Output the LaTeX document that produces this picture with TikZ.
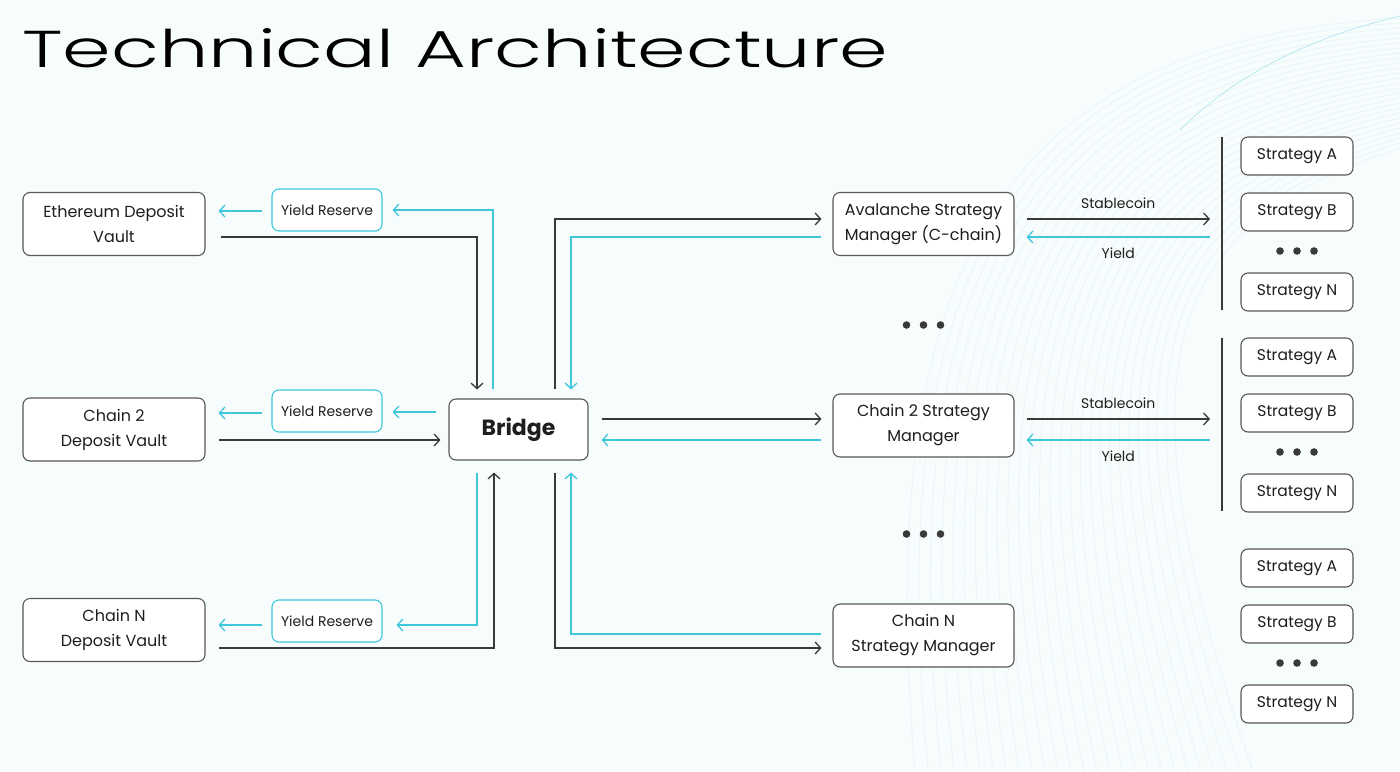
\documentclass[tikz,border=0pt]{standalone}
\usepackage{fontspec}
\setmainfont{Poppins}
\newfontfamily\titlefont{Poppins Light}
\usetikzlibrary{arrows.meta,calc}
\definecolor{bg}{HTML}{F7FCFD}
\definecolor{dk}{HTML}{3A3A3A}
\definecolor{cy}{HTML}{3DC7DA}
\definecolor{txt}{HTML}{1E1E1E}
\definecolor{deco}{HTML}{E8F2F5}
\tikzset{
  box/.style={draw=dk!85, line width=1.1pt, rounded corners=7pt, fill=white, align=center, inner sep=0pt, text=txt, font=\fontsize{16}{25}\selectfont},
  vault/.style={box, minimum width=182pt, minimum height=63pt},
  mgr/.style={box, minimum width=181pt, minimum height=63pt},
  strat/.style={box, minimum width=112pt, minimum height=38pt, font=\fontsize{15.5}{18}\selectfont},
  reserve/.style={box, draw=cy, minimum width=110pt, minimum height=42pt, font=\fontsize{14}{16}\selectfont},
  bridgebox/.style={box, minimum width=139pt, minimum height=61pt, font=\fontsize{22}{26}\bfseries\selectfont},
  dkline/.style={draw=dk, line width=1.3pt, -{Straight Barb[length=5.5pt,width=12pt]}},
  cyline/.style={draw=cy, line width=1.3pt, -{Straight Barb[length=5.5pt,width=12pt]}},
  lbl/.style={font=\fontsize{14}{16}\selectfont, text=txt, inner sep=0pt},
  dot/.style={fill=dk, draw=none}
}
\begin{document}
\begin{tikzpicture}[x=1pt,y=-1pt]
\path[use as bounding box, fill=bg] (0,0) rectangle (1400,771);
% decorative background curves
\begin{scope}
\clip (0,0) rectangle (1400,771);
\foreach \i in {0,...,26}{
  \draw[deco, line width=0.6pt] (1400,{18+\i*5}) .. controls ({1020+\i*6},{40+\i*7}) and ({870+\i*9},{240+\i*4}) .. ({915+\i*13},771);
}
\draw[cy!40, line width=0.7pt] (1400,16) .. controls (1300,40) and (1230,80) .. (1180,130);
\end{scope}
% title
\node[anchor=south west, inner sep=0pt] (title) at (22,68) {\resizebox{866pt}{39pt}{\titlefont Technical Architecture}};
% left vaults
\node[vault] (eth) at (114,224) {Ethereum Deposit\\Vault};
\node[vault] (c2v) at (114,429.5) {Chain 2\\Deposit Vault};
\node[vault] (cnv) at (114,630) {Chain N\\Deposit Vault};
% yield reserves
\node[reserve] (yr1) at (327,210) {Yield Reserve};
\node[reserve] (yr2) at (327,411) {Yield Reserve};
\node[reserve] (yr3) at (327,621) {Yield Reserve};
% bridge
\node[bridgebox] (bridge) at (518.5,429.5) {Bridge};
% managers
\node[mgr] (avm) at (923.5,224) {Avalanche Strategy\\Manager (C-chain)};
\node[mgr] (c2m) at (923.5,425.5) {Chain 2 Strategy\\Manager};
\node[mgr] (cnm) at (923.5,635.5) {Chain N\\Strategy Manager};
% strategies
\node[strat] (s1a) at (1297,156) {\raisebox{-2pt}{Strategy A}};
\node[strat] (s1b) at (1297,212) {\raisebox{-2pt}{Strategy B}};
\node[strat] (s1n) at (1297,292) {\raisebox{-2pt}{Strategy N}};
\node[strat] (s2a) at (1297,357) {\raisebox{-2pt}{Strategy A}};
\node[strat] (s2b) at (1297,413) {\raisebox{-2pt}{Strategy B}};
\node[strat] (s2n) at (1297,493) {\raisebox{-2pt}{Strategy N}};
\node[strat] (s3a) at (1297,568) {\raisebox{-2pt}{Strategy A}};
\node[strat] (s3b) at (1297,624) {\raisebox{-2pt}{Strategy B}};
\node[strat] (s3n) at (1297,704) {\raisebox{-2pt}{Strategy N}};
% dots
\foreach \x/\y in {1297/251, 1297/452, 1297/663, 923.5/325, 923.5/534}{
  \foreach \d in {-17,0,17}{ \fill[dot] ({\x+\d},\y) circle (3.8pt); }
}
% bars
\coordinate (b1t) at (1222,137); \coordinate (b1b) at (1222,310);
\coordinate (b2t) at (1222,338); \coordinate (b2b) at (1222,511);
\draw[dk, line width=1.3pt] (b1t) -- (b1b);
\draw[dk, line width=1.3pt] (b2t) -- (b2b);
% left side connectors
\draw[dkline] ($(eth.east)+(15,13)$) -| ($(bridge.north)+(-41.5,-9)$);
\draw[cyline] ($(bridge.north)+(-25.5,-9)$) |- ($(yr1.east)+(10,0)$);
\draw[cyline] ($(yr1.west)+(-9,1)$) -- ($(eth.east)+(13,-13)$);
\draw[dkline] ($(c2v.east)+(13,10.5)$) -- ($(bridge.west)+(-8,10.5)$);
\draw[cyline] ($(bridge.west)+(-12,-17.5)$) -- ($(yr2.east)+(10,1)$);
\draw[cyline] ($(yr2.west)+(-9,2)$) -- ($(c2v.east)+(13,-16.5)$);
\draw[dkline] ($(cnv.east)+(13,18)$) -| ($(bridge.south)+(-24.5,12)$);
\draw[cyline] ($(bridge.south)+(-41.5,12)$) |- ($(yr3.east)+(14,4)$);
\draw[cyline] ($(yr3.west)+(-9,4)$) -- ($(cnv.east)+(13,-5)$);
% right side connectors
\draw[dkline] ($(bridge.north)+(36.5,-9)$) |- ($(avm.west)+(-11,-5)$);
\draw[cyline] ($(avm.west)+(-11,13)$) -| ($(bridge.north)+(52.5,-9)$);
\draw[dkline] ($(bridge.east)+(13,-10.5)$) -- ($(c2m.west)+(-11,-6.5)$);
\draw[cyline] ($(c2m.west)+(-11,14.5)$) -- ($(bridge.east)+(13,10.5)$);
\draw[dkline] ($(bridge.south)+(36.5,12)$) |- ($(cnm.west)+(-11,12.5)$);
\draw[cyline] ($(cnm.west)+(-11,-1.5)$) -| ($(bridge.south)+(52.5,12)$);
% stablecoin / yield
\draw[dkline] ($(avm.east)+(12,-5)$) -- node[lbl, above=10pt] {Stablecoin} ($(b1t |- avm.east)+(-12,-5)$);
\draw[cyline] ($(b1t |- avm.east)+(-12,13)$) -- node[lbl, below=10pt] {Yield} ($(avm.east)+(12,13)$);
\draw[dkline] ($(c2m.east)+(12,-6.5)$) -- node[lbl, above=10pt] {Stablecoin} ($(b2t |- c2m.east)+(-12,-6.5)$);
\draw[cyline] ($(b2t |- c2m.east)+(-12,14.5)$) -- node[lbl, below=10pt] {Yield} ($(c2m.east)+(12,14.5)$);
\end{tikzpicture}
\end{document}
